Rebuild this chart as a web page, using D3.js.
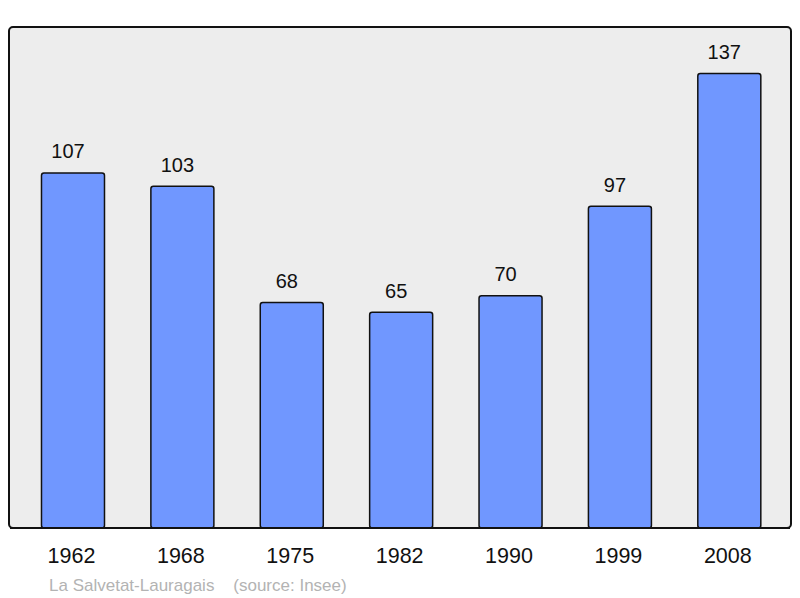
<!DOCTYPE html>
<html><head><meta charset="utf-8">
<script src="https://cdn.jsdelivr.net/npm/d3@7"></script>
<style>body{margin:0;background:#fff}svg{display:block}</style>
</head><body>
<script>
const years = ["1962","1968","1975","1982","1990","1999","2008"];
const population = [107,103,68,65,70,97,137];
const place = "La Salvetat-Lauragais";
const source = "(source: Insee)";

const W=800,H=598;
const svg=d3.select("body").append("svg").attr("width",W).attr("height",H);
const fx0=9,fy0=27,fx1=791,fy1=528;
svg.append("rect").attr("x",fx0).attr("y",fy0).attr("width",fx1-fx0).attr("height",fy1-fy0)
  .attr("rx",4).attr("fill","#ededed").attr("stroke","#111").attr("stroke-width",2);

const x=d3.scaleBand().domain(years).range([18.3,784]).paddingInner(0.424).paddingOuter(0.212);
const y=d3.scaleLinear().domain([0,151]).range([fy1,fy0]);

const g=svg.append("g");
g.selectAll("rect.bar").data(population).enter().append("rect").attr("class","bar")
  .attr("x",(d,i)=>x(years[i])).attr("y",d=>y(d)).attr("width",x.bandwidth())
  .attr("height",d=>fy1-y(d)).attr("rx",2.5)
  .attr("fill","#7097ff").attr("stroke","#111").attr("stroke-width",1.5);
svg.append("line").attr("x1",fx0+1).attr("x2",fx1-1).attr("y1",fy1).attr("y2",fy1).attr("stroke","#111").attr("stroke-width",2);

g.selectAll("text.val").data(population).enter().append("text").attr("class","val")
  .attr("x",(d,i)=>x(years[i])+x.bandwidth()/2-5).attr("y",d=>y(d)-14.5)
  .attr("text-anchor","middle").attr("font-family","Liberation Sans, Arial, sans-serif")
  .attr("font-size",20).attr("fill","#111").text(d=>d);

const xa=svg.append("g").attr("transform",`translate(-1.5,${fy1})`)
  .call(d3.axisBottom(x).tickSize(0).tickPadding(0));
xa.select(".domain").remove();
xa.selectAll("text").attr("y",34.5).attr("dy",0).attr("font-family","Liberation Sans, Arial, sans-serif")
  .attr("font-size",21.5).attr("fill","#111");

svg.append("text").attr("x",49).attr("y",591).attr("font-family","Liberation Sans, Arial, sans-serif")
  .attr("font-size",17).attr("fill","#b3b3b3").attr("xml:space","preserve").style("white-space","pre")
  .text(place+"    "+source);
</script>
</body></html>
